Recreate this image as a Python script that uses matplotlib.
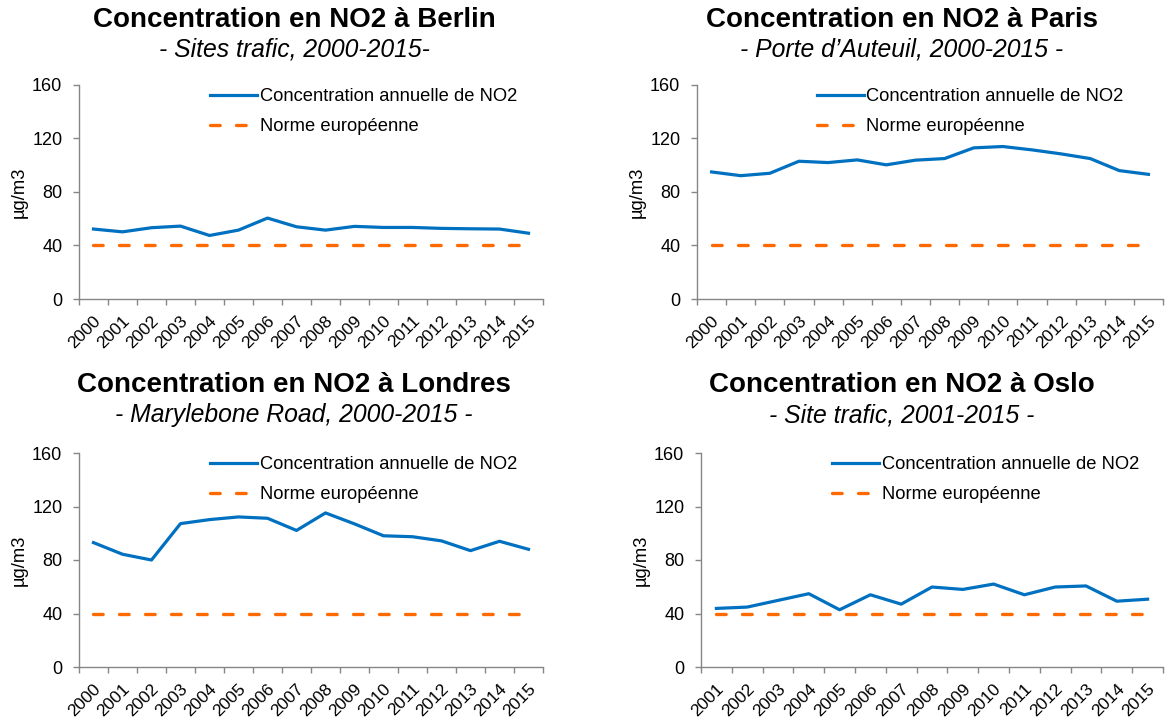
import numpy as np
import matplotlib
matplotlib.use("Agg")
import matplotlib.pyplot as plt
from matplotlib.transforms import ScaledTranslation

plt.rcParams["font.family"] = ["Liberation Sans", "DejaVu Sans"]

# --- data ---
years_00 = [str(y) for y in range(2000, 2016)]
years_01 = [str(y) for y in range(2001, 2016)]

berlin = [52.3, 50.2, 53.3, 54.5, 47.5, 51.5, 60.5, 54.0, 51.5, 54.3,
          53.5, 53.5, 52.8, 52.5, 52.3, 49.2]
paris = [95.0, 92.2, 94.0, 103.0, 102.0, 104.0, 100.3, 103.8, 105.0, 113.0,
         114.0, 111.5, 108.5, 105.0, 96.0, 93.2]
londres = [93.0, 84.3, 80.0, 107.2, 110.2, 112.2, 111.2, 102.1, 115.2, 107.0,
           98.1, 97.4, 94.3, 87.0, 94.0, 88.0]
oslo = [43.8, 44.8, 49.8, 54.8, 42.8, 54.0, 47.0, 59.8, 58.0, 62.0,
        54.0, 59.8, 60.6, 49.2, 50.7]
norme = 40

titles = ["Concentration en NO2 à Berlin", "Concentration en NO2 à Paris",
          "Concentration en NO2 à Londres", "Concentration en NO2 à Oslo"]
subtitles = ["- Sites trafic, 2000-2015-", "- Porte d\u2019Auteuil, 2000-2015 -",
             "- Marylebone Road, 2000-2015 -", "- Site trafic, 2001-2015 -"]
yticks = [0, 40, 80, 120, 160]

BLUE = "#0070C0"
ORANGE = "#FF6A00"
AXIS = "#868686"
FS = 13.2

W, H = 1165, 719
fig = plt.figure(figsize=(W / 100, H / 100), dpi=100)


def rect(l, t, r, b):
    return [l / W, 1 - b / H, (r - l) / W, (b - t) / H]


panels = [
    (rect(79, 85, 543, 299), years_00, berlin, 0.282, (294, 27, 57)),
    (rect(697, 85, 1163, 299), years_00, paris, 0.257, (902, 27, 57)),
    (rect(79, 453, 543, 667), years_00, londres, 0.282, (294, 392, 422)),
    (rect(701, 453, 1163, 667), years_01, oslo, 0.284, (902, 392, 422)),
]

for i, (pos, cats, vals, lx, (tx, ty, sy)) in enumerate(panels):
    ax = fig.add_axes(pos)
    n = len(cats)
    x = np.arange(n)
    ax.plot(x, vals, color=BLUE, lw=2.3, solid_joinstyle="round",
            label="Concentration annuelle de NO2")
    ax.plot(x, [norme] * n, color=ORANGE, lw=2.4, dashes=(2.9, 4.9),
            dash_capstyle="round", label="Norme européenne")

    ax.set_xlim(-0.5, n - 0.5)
    ax.set_ylim(0, 160)
    ax.set_yticks(yticks)
    ax.tick_params(axis="y", length=4, width=1, color=AXIS, pad=8,
                   labelsize=13)
    ax.set_xticks(np.arange(-0.5, n), labels=[""] * (n + 1))
    ax.tick_params(axis="x", which="major", length=4, width=1, color=AXIS)
    ax.set_xticks(x, labels=cats, minor=True)
    ax.tick_params(axis="x", which="minor", length=0, pad=14, labelsize=12.5)
    for lab in ax.get_xticklabels(minor=True):
        lab.set_rotation(45)
        lab.set_ha("right")
        lab.set_va("center")
        lab.set_rotation_mode("anchor")
        lab.set_transform(lab.get_transform()
                          + ScaledTranslation(5 / 100, 0, fig.dpi_scale_trans))

    for s in ["top", "right"]:
        ax.spines[s].set_visible(False)
    for s in ["left", "bottom"]:
        ax.spines[s].set_color(AXIS)
        ax.spines[s].set_linewidth(1)

    ax.set_ylabel("µg/m3", fontsize=FS)
    ax.yaxis.set_label_coords(-51 / (pos[2] * W), 0.5)

    ax.legend(loc="upper left", bbox_to_anchor=(lx, 0.986), frameon=False,
              borderpad=0, borderaxespad=0, handlelength=2.55,
              handletextpad=0.16, labelspacing=0.72, fontsize=FS)

    fig.text(tx / W, 1 - ty / H, titles[i], ha="center", va="baseline",
             fontsize=20, fontweight="bold")
    fig.text(tx / W, 1 - sy / H, subtitles[i], ha="center", va="baseline",
             fontsize=17.8, fontstyle="italic")

fig.savefig("out.png", dpi=100)
